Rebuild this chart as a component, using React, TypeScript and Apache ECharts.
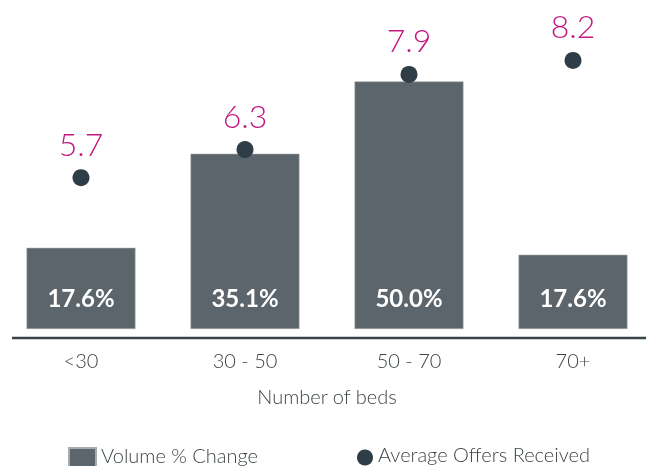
import React, { useEffect, useRef } from "react";
import * as echarts from "echarts";

const categories = ["<30", "30 - 50", "50 - 70", "70+"];
// plotted bar heights
const volumeBarValues = [16.4, 35.4, 50.0, 15.0];
// printed labels inside the bars
const volumeLabels = ["17.6%", "35.1%", "50.0%", "17.6%"];
const offersValues = [5.7, 6.3, 7.9, 8.2];

const FONT = "Lato, 'Open Sans', sans-serif";

const makeLegendText = (padBottom: number) => ({
  color: "#3d4448",
  fontSize: 20,
  fontWeight: 300,
  fontFamily: FONT,
  rich: {
    t: {
      color: "#3d4448",
      fontSize: 20,
      fontWeight: 300,
      fontFamily: FONT,
      padding: [0, 0, padBottom, 0],
    },
  },
});

export default function App() {
  const ref = useRef<HTMLDivElement>(null);
  useEffect(() => {
    if (!ref.current) return;
    const chart = echarts.init(ref.current, undefined, { renderer: "svg" });
    chart.setOption({
      animation: false,
      grid: { left: -1, right: -9, top: 0, height: 329, outerBoundsMode: "none" },
      xAxis: {
        type: "category",
        data: categories,
        axisLine: { show: false },
        axisTick: { show: false },
        axisLabel: {
          color: "#3d4448",
          fontSize: 20,
          fontWeight: 300,
          fontFamily: FONT,
          margin: 21,
        },
        name: "Number of beds",
        nameLocation: "middle",
        nameGap: 57,
        nameTextStyle: {
          color: "#3d4448",
          fontSize: 20,
          fontWeight: 300,
          fontFamily: FONT,
        },
      },
      yAxis: [
        { type: "value", min: 0, max: 66.44, show: false },
        { type: "value", min: 2.473, max: 9.488, show: false },
      ],
      legend: [
        {
          data: ["Volume % Change"],
          left: 68,
          top: 445,
          padding: 0,
          itemWidth: 27,
          itemHeight: 21,
          icon: "rect",
          formatter: (name: string) => `{t|${name}}`,
          textStyle: makeLegendText(7),
        },
        {
          data: ["Average Offers Received"],
          left: 357,
          top: 444,
          padding: 0,
          itemWidth: 16,
          itemHeight: 16,
          icon: "circle",
          formatter: (name: string) => `{t|${name}}`,
          textStyle: makeLegendText(7),
        },
      ],
      graphic: [
        {
          type: "line",
          shape: { x1: 12, y1: 338, x2: 646, y2: 338 },
          style: { stroke: "#37444c", lineWidth: 2.5 },
        },
      ],
      series: [
        {
          name: "Volume % Change",
          type: "bar",
          yAxisIndex: 0,
          data: volumeBarValues,
          barWidth: 109,
          itemStyle: { color: "#5b656b", borderColor: "#a5acb0", borderWidth: 0.6 },
          label: {
            show: true,
            position: "insideBottom",
            distance: 20,
            color: "#ffffff",
            fontSize: 24,
            fontWeight: "bold",
            fontFamily: FONT,
            formatter: (p: any) => volumeLabels[p.dataIndex],
          },
        },
        {
          name: "Average Offers Received",
          type: "scatter",
          yAxisIndex: 1,
          data: offersValues,
          symbol: "circle",
          symbolSize: 17,
          itemStyle: { color: "#2f3d47", opacity: 1 },
          label: {
            show: true,
            position: "top",
            distance: 10,
            color: "#c2187f",
            fontSize: 32,
            fontWeight: 300,
            fontFamily: FONT,
            formatter: (p: any) => p.value.toFixed(1),
          },
        },
      ],
    });
    return () => chart.dispose();
  }, []);
  return (
    <div
      ref={ref}
      style={{ position: "fixed", left: 0, top: 0, width: 646, height: 466 }}
    />
  );
}
